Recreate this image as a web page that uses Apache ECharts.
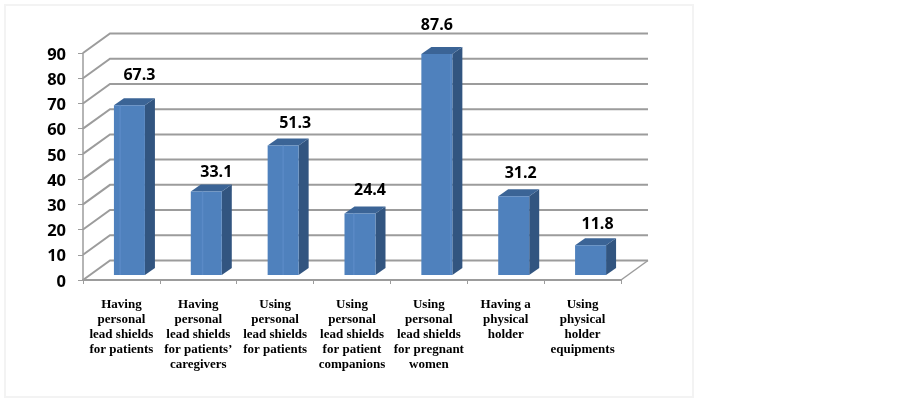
<!DOCTYPE html>
<html><head><meta charset="utf-8">
<script src="https://cdn.jsdelivr.net/npm/echarts@6/dist/echarts.min.js"></script>
<style>html,body{margin:0;padding:0;background:#fff}#c{width:903px;height:400px}</style>
</head><body><div id="c"></div>
<script>
const categories = [
  "Having\npersonal\nlead shields\nfor patients",
  "Having\npersonal\nlead shields\nfor patients’\ncaregivers",
  "Using\npersonal\nlead shields\nfor patients",
  "Using\npersonal\nlead shields\nfor patient\ncompanions",
  "Using\npersonal\nlead shields\nfor pregnant\nwomen",
  "Having a\nphysical\nholder",
  "Using\nphysical\nholder\nequipments"
];
const values = [67.3, 33.1, 51.3, 24.4, 87.6, 31.2, 11.8];
const wallTicks = [0, 10, 20, 30, 40, 50, 60, 70, 80, 90];
const labelDx = [10, 10, 12, 10, 0, 7, 7];
const labelDy = [30, 19, 22, 23, 29, 23, 21];
const stripeAt = [0.2, 0.38, 0.5, 0.3, 0.95, 0, 0];

const DEPTH_X = 27, DEPTH_Y = 19.5, BAR_DX = 8, BAR_DY = 5, BAR_W = 31, SIDE_X = 10, SIDE_Y = 7;
const GRID = '#9c9c9c';

const chart = echarts.init(document.getElementById('c'), null, {renderer: 'canvas'});
chart.setOption({
  animation: false,
  backgroundColor: '#fff',
  graphic: [{type: 'rect', shape: {x: 5, y: 5, width: 688, height: 392},
    style: {fill: 'none', stroke: '#f3f3f3', lineWidth: 2}, z: 0}],
  grid: {left: 83, right: 282, top: 53, bottom: 120},
  xAxis: {
    type: 'category', data: categories,
    axisLine: {lineStyle: {color: GRID, width: 2}},
    axisTick: {show: true, alignWithLabel: false, length: 4, lineStyle: {color: GRID, width: 1}},
    axisLabel: {interval: 0, margin: 17, fontFamily: 'Liberation Serif', fontWeight: 'bold',
      fontSize: 13, lineHeight: 15, color: '#000', align: 'center', verticalAlign: 'top'}
  },
  yAxis: {
    type: 'value', min: 0, max: 90, interval: 10,
    axisLine: {show: true, lineStyle: {color: GRID, width: 1.5}},
    axisTick: {show: true, length: 5, lineStyle: {color: GRID, width: 1}},
    splitLine: {show: false},
    axisLabel: {margin: 17, fontFamily: 'Open Sans', fontWeight: 'bold', fontSize: 16.5, color: '#000',
      verticalAlign: 'top', lineHeight: 4}
  },
  series: [
    {
      type: 'custom', z: 1, silent: true, clip: false,
      data: wallTicks.map(v => [0, v]),
      encode: {x: 0, y: 1},
      renderItem(params, api) {
        const y = api.coord([0, api.value(1)])[1];
        const s = params.coordSys;
        const x0 = s.x, x1 = s.x + s.width;
        const kids = [{type: 'polyline',
          shape: {points: [[x0, y], [x0 + DEPTH_X, y - DEPTH_Y], [x1 + DEPTH_X, y - DEPTH_Y]]},
          style: {fill: 'none', stroke: GRID, lineWidth: 2}}];
        if (api.value(1) === 0) kids.push({type: 'line',
          shape: {x1: x1, y1: y, x2: x1 + DEPTH_X, y2: y - DEPTH_Y},
          style: {stroke: GRID, lineWidth: 1.5}});
        return {type: 'group', children: kids};
      }
    },
    {
      type: 'custom', z: 3, silent: true, clip: false,
      data: values.map((v, i) => [i, v]),
      encode: {x: 0, y: 1},
      renderItem(params, api) {
        const i = api.value(0);
        const base = api.coord([i, 0]);
        const top = api.coord([i, api.value(1)]);
        const l = base[0] + BAR_DX - BAR_W / 2, r = l + BAR_W;
        const t = top[1] - BAR_DY, b = base[1] - BAR_DY;
        const kids = [
          {type: 'polygon', shape: {points: [[r, t], [r + SIDE_X, t - SIDE_Y], [r + SIDE_X, b - SIDE_Y], [r, b]]},
            style: {fill: '#325580'}},
          {type: 'polygon', shape: {points: [[l, t], [l + SIDE_X, t - SIDE_Y], [r + SIDE_X, t - SIDE_Y], [r, t]]},
            style: {fill: '#3b6496'}},
          {type: 'rect', shape: {x: l, y: t, width: BAR_W, height: b - t}, style: {fill: '#4f81bd'}}
        ];
        if (stripeAt[i]) kids.push({type: 'rect',
          shape: {x: l + stripeAt[i] * BAR_W - 0.75, y: t, width: 1.5, height: b - t},
          style: {fill: '#5a8ac6'}});
        kids.push({type: 'text', style: {x: base[0] + BAR_DX + labelDx[i], y: t - labelDy[i],
            text: api.value(1).toFixed(1), fill: '#000', align: 'center', verticalAlign: 'middle',
            font: 'bold 16px "Open Sans"'}});
        return {type: 'group', children: kids};
      }
    }
  ]
});
</script></body></html>
